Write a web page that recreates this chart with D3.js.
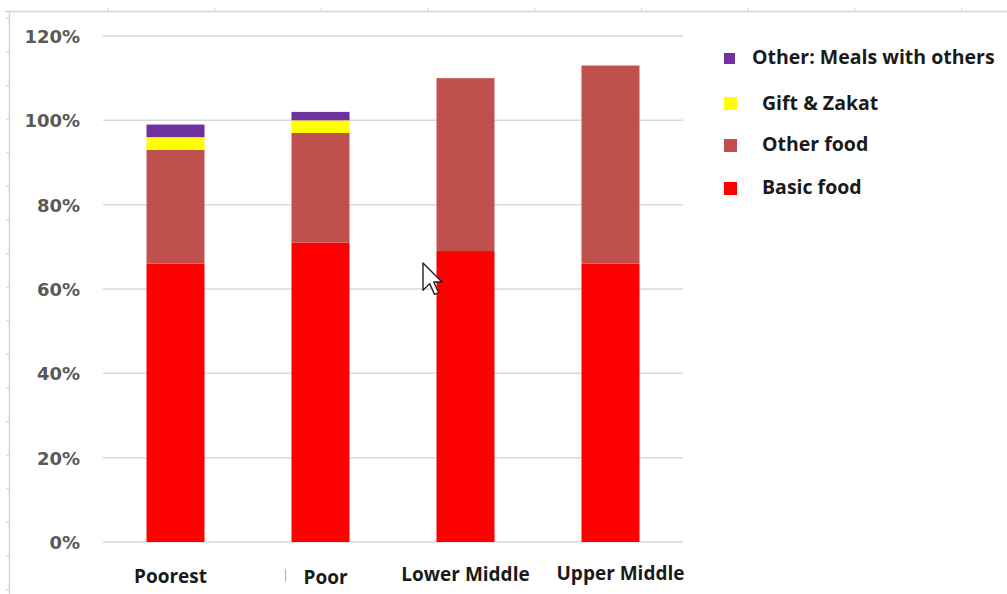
<!DOCTYPE html>
<html>
<head>
<meta charset="utf-8">
<script src="https://cdn.jsdelivr.net/npm/d3@7"></script>
<style>
  html, body { margin: 0; padding: 0; background: #fff; }
  svg { display: block; }
</style>
</head>
<body>
<svg id="chart" width="1007" height="594"></svg>
<script>
// Household groups and the share of food spending by source (percent)
const categories = ["Poorest", "Poor", "Lower Middle", "Upper Middle"];
const basicFood  = [66, 71, 69, 66];
const otherFood  = [27, 26, 41, 47];
const giftZakat  = [3, 3, 0, 0];
const mealsWithOthers = [3, 2, 0, 0];
const yTicks = [0, 20, 40, 60, 80, 100, 120];

const seriesNames = ["Basic food", "Other food", "Gift & Zakat", "Other: Meals with others"];
const seriesColors = ["#ff0000", "#c0504d", "#ffff00", "#7030a0"];
const seriesValues = [basicFood, otherFood, giftZakat, mealsWithOthers];

const rows = categories.map((c, i) => {
  const r = { category: c };
  seriesNames.forEach((s, k) => { r[s] = seriesValues[k][i]; });
  return r;
});

const svg = d3.select("#chart");

// Outer sheet frame with its small ruler marks
const frame = svg.append("g");
frame.append("line").attr("x1", 5).attr("x2", 1007).attr("y1", 11.5).attr("y2", 11.5)
  .attr("stroke", "#d4d4d4").attr("stroke-width", 1.5);
frame.append("line").attr("x1", 9.5).attr("x2", 9.5).attr("y1", 11).attr("y2", 594)
  .attr("stroke", "#d4d4d4").attr("stroke-width", 1.5);
d3.range(108, 1007, 106.7).forEach(x => {
  frame.append("line").attr("x1", x).attr("x2", x).attr("y1", 8).attr("y2", 11)
    .attr("stroke", "#d0d0d0");
});
d3.range(18.4, 594, 33.6).forEach(y => {
  frame.append("line").attr("x1", 6).attr("x2", 9).attr("y1", y).attr("y2", y)
    .attr("stroke", "#d0d0d0");
});

// Plot area
const plot = { left: 103, right: 683, top: 36, bottom: 542 };

const x = d3.scaleBand().domain(categories)
  .range([plot.left, plot.right]).paddingInner(0.6).paddingOuter(0.3);
const y = d3.scaleLinear().domain([0, 120]).range([plot.bottom, plot.top]);

// Horizontal gridlines
svg.append("g").selectAll("line").data(yTicks).join("line")
  .attr("x1", plot.left).attr("x2", plot.right)
  .attr("y1", d => y(d)).attr("y2", d => y(d))
  .attr("stroke", "#d9d9d9").attr("stroke-width", 1.5);

// Y axis labels
const yAxis = d3.axisLeft(y).tickValues(yTicks).tickFormat(d => d + "%").tickSize(0).tickPadding(0);
const yg = svg.append("g").attr("transform", "translate(80,0)").call(yAxis);
yg.select(".domain").remove();
yg.selectAll("text")
  .attr("font-family", "DejaVu Sans, sans-serif")
  .attr("font-weight", "bold")
  .attr("font-size", 18)
  .attr("fill", "#595959")
  .attr("dy", "0.36em");

// Stacked bars
const stack = d3.stack().keys(seriesNames);
const layers = stack(rows);
const color = d3.scaleOrdinal().domain(seriesNames).range(seriesColors);

svg.append("g").selectAll("g").data(layers).join("g")
  .attr("fill", d => color(d.key))
  .selectAll("rect").data(d => d.filter(p => p[1] - p[0] > 0)).join("rect")
  .attr("x", d => x(d.data.category))
  .attr("width", x.bandwidth())
  .attr("y", d => y(d[1]))
  .attr("height", d => y(d[0]) - y(d[1]));

// Category labels
const catOffsets = { "Poorest": [-5, 576], "Poor": [5, 577], "Lower Middle": [0, 574], "Upper Middle": [10, 573] };
svg.append("g").selectAll("text").data(categories).join("text")
  .attr("x", d => x(d) + x.bandwidth() / 2 + catOffsets[d][0])
  .attr("y", d => catOffsets[d][1])
  .attr("dy", "0.35em")
  .attr("text-anchor", "middle")
  .attr("font-family", "Open Sans, sans-serif")
  .attr("font-weight", "bold")
  .attr("font-size", 19)
  .attr("fill", "#1a1a1a")
  .text(d => d);

// Small tan mark beside the "Poor" label
svg.append("line").attr("x1", 285.5).attr("x2", 285.5).attr("y1", 569).attr("y2", 581)
  .attr("stroke", "#d9a883").attr("stroke-width", 1.2);

// Legend (top entry first)
const legendItems = [
  { name: "Other: Meals with others", sq: [724, 53, 11], tx: 752, ty: 57 },
  { name: "Gift & Zakat", sq: [724, 97, 13], tx: 762, ty: 103 },
  { name: "Other food", sq: [724, 139, 13], tx: 762, ty: 144 },
  { name: "Basic food", sq: [724, 182, 13], tx: 762, ty: 187 }
];
const lg = svg.append("g");
legendItems.forEach(it => {
  lg.append("rect").attr("x", it.sq[0]).attr("y", it.sq[1])
    .attr("width", it.sq[2]).attr("height", it.sq[2])
    .attr("fill", color(it.name));
  lg.append("text").attr("x", it.tx).attr("y", it.ty).attr("dy", "0.35em")
    .attr("font-family", "Open Sans, sans-serif")
    .attr("font-weight", "bold")
    .attr("font-size", 19.5)
    .attr("fill", "#1a1a1a")
    .text(it.name);
});

// Mouse pointer resting over the chart
const cursorPts = [[0,0],[0,16.5],[4,12.5],[7,19],[9.5,18],[6.5,11.5],[11.5,11.5]];
svg.append("polygon")
  .attr("points", cursorPts.map(p => [423 + p[0] * 1.65, 263 + p[1] * 1.65].join(",")).join(" "))
  .attr("fill", "#fff").attr("stroke", "#222").attr("stroke-width", 1.4)
  .attr("stroke-linejoin", "round");
</script>
</body>
</html>
